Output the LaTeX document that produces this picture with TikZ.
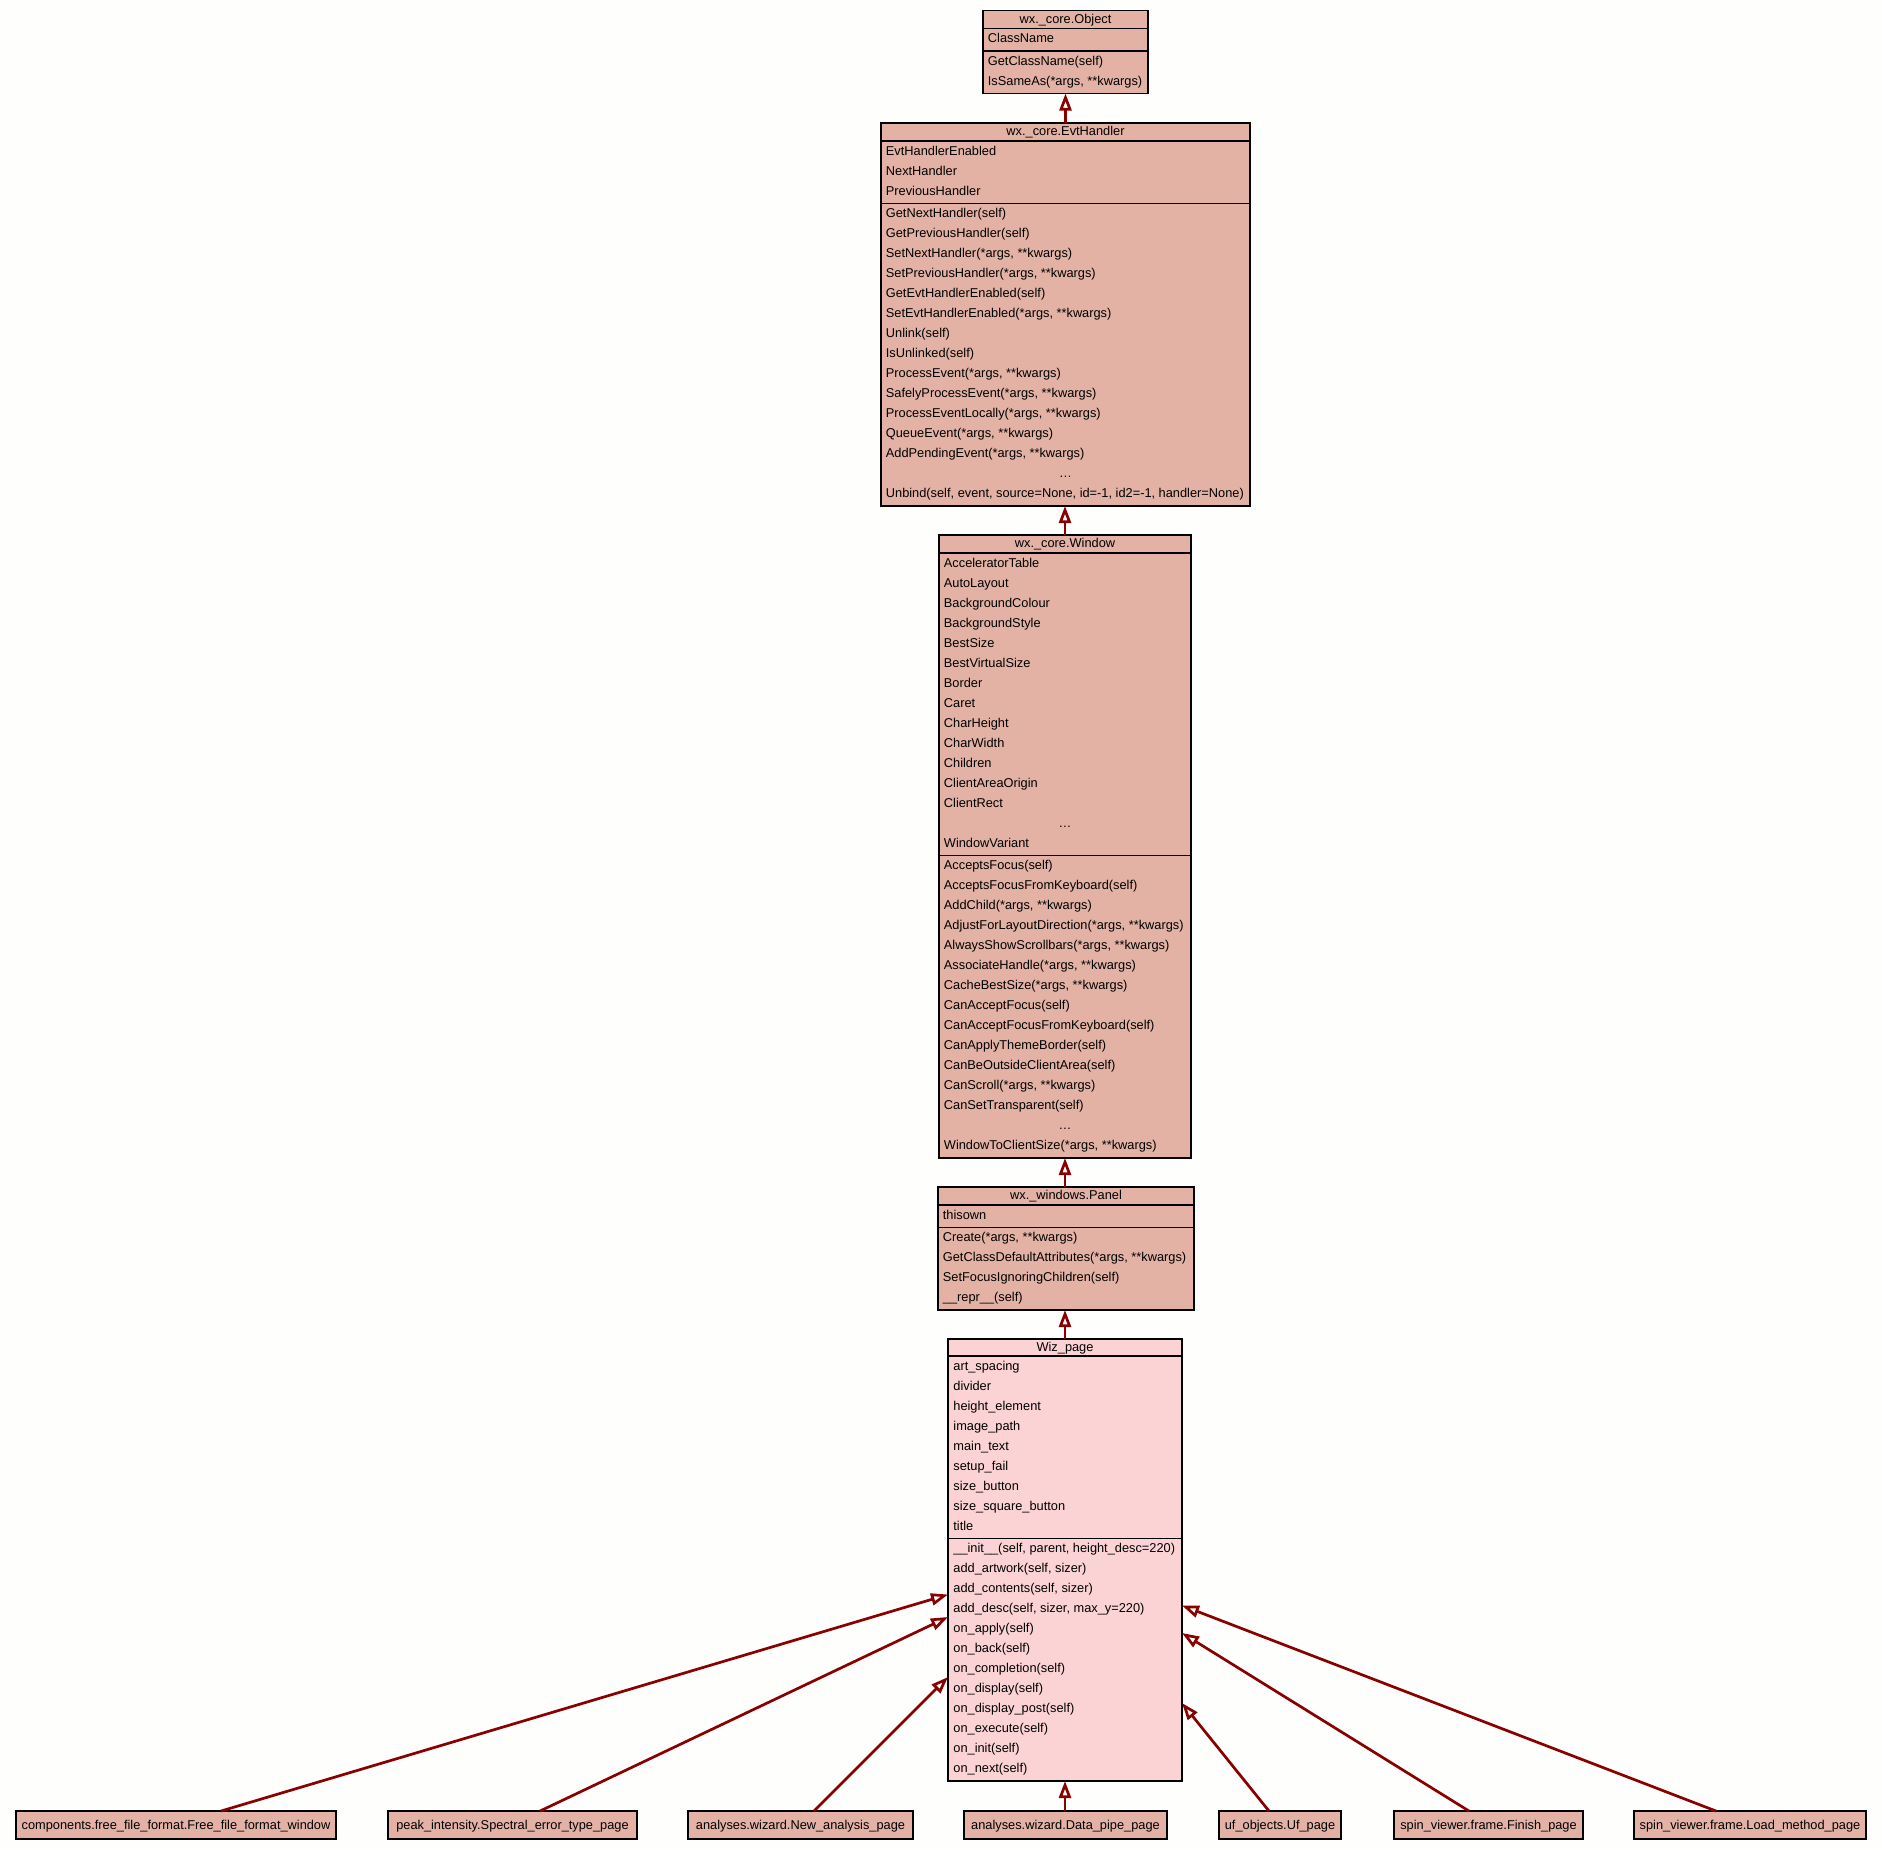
\documentclass[tikz,border=0pt]{standalone}
\usepackage{fontspec}
\setmainfont{Liberation Sans}
\usetikzlibrary{arrows.meta,fit}
\definecolor{clsfill}{RGB}{227,178,165}
\definecolor{wizfill}{RGB}{252,211,212}
\definecolor{inh}{RGB}{136,0,0}
\definecolor{bgcol}{RGB}{254,254,252}
\begin{document}
\begin{tikzpicture}[x=0.5pt,y=-0.5pt,
  box/.style={draw=black, line width=0.6pt, inner sep=0pt, outer sep=0pt},
  txt/.style={inner sep=0pt, anchor=base west, font=\fontsize{6.4}{7.7}\selectfont},
  ttl/.style={inner sep=0pt, anchor=base, font=\fontsize{6.4}{7.7}\selectfont},
  sepline/.style={draw=black, line width=0.6pt},
  inherit/.style={draw=inh, line width=1.35pt, -{Triangle[open, length=8.5pt, width=6pt]}}
]
\fill[bgcol] (0,0) rectangle (1882,1849);
\useasboundingbox (0,0) rectangle (1882,1849);

% ---------- wx._core.Object ----------
\node[box, fill=clsfill, fit={(983,10.5) (1148,93.5)}] (obj) {};
\draw[sepline] (983,28.5) -- (1148,28.5);
\draw[sepline] (983,51) -- (1148,51);
\node[ttl] (objt) at (1065.5,23) {wx.\_core.Object};
\node[txt] (obja0) at (987.5,42.5) {ClassName};
\foreach \t [count=\i from 0] in {GetClassName(self),{IsSameAs(*args, **kwargs)}}
  \node[txt] (objm\i) at (987.5,65+20*\i) {\t};

% ---------- wx._core.EvtHandler ----------
\node[box, fill=clsfill, fit={(881,123) (1250,506)}] (evt) {};
\draw[sepline] (881,141) -- (1250,141);
\draw[sepline] (881,203.5) -- (1250,203.5);
\node[ttl] (evtt) at (1065.5,135) {wx.\_core.EvtHandler};
\foreach \t [count=\i from 0] in {EvtHandlerEnabled,NextHandler,PreviousHandler}
  \node[txt] (evta\i) at (885.5,155+20*\i) {\t};
\foreach \t [count=\i from 0] in {GetNextHandler(self),GetPreviousHandler(self),
  {SetNextHandler(*args, **kwargs)},{SetPreviousHandler(*args, **kwargs)},
  GetEvtHandlerEnabled(self),{SetEvtHandlerEnabled(*args, **kwargs)},
  Unlink(self),IsUnlinked(self),{ProcessEvent(*args, **kwargs)},
  {SafelyProcessEvent(*args, **kwargs)},{ProcessEventLocally(*args, **kwargs)},
  {QueueEvent(*args, **kwargs)},{AddPendingEvent(*args, **kwargs)}}
  \node[txt] (evtm\i) at (885.5,217.5+20*\i) {\t};
\node[ttl] (evtdots) at (1065.5,477.5) {…};
\node[txt] (evtm14) at (885.5,497.5) {Unbind(self, event, source=None, id=-1, id2=-1, handler=None)};

% ---------- wx._core.Window ----------
\node[box, fill=clsfill, fit={(939,535) (1191,1158)}] (win) {};
\draw[sepline] (939,553) -- (1191,553);
\draw[sepline] (939,855.5) -- (1191,855.5);
\node[ttl] (wint) at (1065,547.5) {wx.\_core.Window};
\foreach \t [count=\i from 0] in {AcceleratorTable,AutoLayout,BackgroundColour,
  BackgroundStyle,BestSize,BestVirtualSize,Border,Caret,CharHeight,CharWidth,
  Children,ClientAreaOrigin,ClientRect}
  \node[txt] (wina\i) at (943.5,567+20*\i) {\t};
\node[ttl] (winadots) at (1065,827) {…};
\node[txt] (wina14) at (943.5,847) {WindowVariant};
\foreach \t [count=\i from 0] in {AcceptsFocus(self),AcceptsFocusFromKeyboard(self),
  {AddChild(*args, **kwargs)},{AdjustForLayoutDirection(*args, **kwargs)},
  {AlwaysShowScrollbars(*args, **kwargs)},{AssociateHandle(*args, **kwargs)},
  {CacheBestSize(*args, **kwargs)},CanAcceptFocus(self),
  CanAcceptFocusFromKeyboard(self),CanApplyThemeBorder(self),
  CanBeOutsideClientArea(self),{CanScroll(*args, **kwargs)},CanSetTransparent(self)}
  \node[txt] (winm\i) at (943.5,869.5+20*\i) {\t};
\node[ttl] (winmdots) at (1065,1129.5) {…};
\node[txt] (winm14) at (943.5,1149.5) {WindowToClientSize(*args, **kwargs)};

% ---------- wx._windows.Panel ----------
\node[box, fill=clsfill, fit={(938,1187) (1194,1310)}] (pan) {};
\draw[sepline] (938,1205) -- (1194,1205);
\draw[sepline] (938,1227.5) -- (1194,1227.5);
\node[ttl] (pant) at (1066,1199.5) {wx.\_windows.Panel};
\node[txt] (pana0) at (942.5,1219) {thisown};
\foreach \t [count=\i from 0] in {{Create(*args, **kwargs)},
  {GetClassDefaultAttributes(*args, **kwargs)},SetFocusIgnoringChildren(self),
  \_\_repr\_\_(self)}
  \node[txt] (panm\i) at (942.5,1241.5+20*\i) {\t};

% ---------- Wiz_page ----------
\node[box, fill=wizfill, fit={(948,1339) (1182,1781)}] (wiz) {};
\draw[sepline] (948,1356) -- (1182,1356);
\draw[sepline] (948,1538.5) -- (1182,1538.5);
\node[ttl] (wizt) at (1065,1351) {Wiz\_page};
\foreach \t [count=\i from 0] in {art\_spacing,divider,height\_element,image\_path,
  main\_text,setup\_fail,size\_button,size\_square\_button,title}
  \node[txt] (wiza\i) at (953,1370+20*\i) {\t};
\foreach \t [count=\i from 0] in {{\_\_init\_\_(self, parent, height\_desc=220)},
  {add\_artwork(self, sizer)},{add\_contents(self, sizer)},
  {add\_desc(self, sizer, max\_y=220)},on\_apply(self),on\_back(self),
  on\_completion(self),on\_display(self),on\_display\_post(self),
  on\_execute(self),on\_init(self),on\_next(self)}
  \node[txt] (wizm\i) at (953,1552.5+20*\i) {\t};

% ---------- bottom row ----------
\node[box, fill=clsfill, fit={(16,1811) (336,1839)}] (b1) {};
\node[ttl] (b1t) at (176,1829.5) {components.free\_file\_format.Free\_file\_format\_window};
\node[box, fill=clsfill, fit={(388,1811) (637,1839)}] (b2) {};
\node[ttl] (b2t) at (512.5,1829.5) {peak\_intensity.Spectral\_error\_type\_page};
\node[box, fill=clsfill, fit={(688,1811) (913,1839)}] (b3) {};
\node[ttl] (b3t) at (800.5,1829.5) {analyses.wizard.New\_analysis\_page};
\node[box, fill=clsfill, fit={(964,1811) (1167,1839)}] (b4) {};
\node[ttl] (b4t) at (1065.5,1829.5) {analyses.wizard.Data\_pipe\_page};
\node[box, fill=clsfill, fit={(1219,1811) (1341,1839)}] (b5) {};
\node[ttl] (b5t) at (1280,1829.5) {uf\_objects.Uf\_page};
\node[box, fill=clsfill, fit={(1394,1811) (1583,1839)}] (b6) {};
\node[ttl] (b6t) at (1488.5,1829.5) {spin\_viewer.frame.Finish\_page};
\node[box, fill=clsfill, fit={(1634,1811) (1866,1839)}] (b7) {};
\node[ttl] (b7t) at (1750,1829.5) {spin\_viewer.frame.Load\_method\_page};

% ---------- inheritance arrows ----------
\draw[inherit] (evt.north) -- (obj.south);
\draw[inherit] (win.north) -- (win.north |- evt.south);
\draw[inherit] (pan.north -| win.north) -- (win.south);
\draw[inherit] (wiz.north) -- (wiz.north |- pan.south);
\draw[inherit] (221,0 |- b1.north) -- (wiz.west |- 0,1594.5);
\draw[inherit] (540,0 |- b2.north) -- (wiz.west |- 0,1617);
\draw[inherit] (814,0 |- b3.north) -- (wiz.west |- 0,1677);
\draw[inherit] (wiz.south |- b4.north) -- (wiz.south);
\draw[inherit] (1269,0 |- b5.north) -- (wiz.east |- 0,1703);
\draw[inherit] (1469,0 |- b6.north) -- (wiz.east |- 0,1633);
\draw[inherit] (1716,0 |- b7.north) -- (wiz.east |- 0,1605.5);
\end{tikzpicture}
\end{document}
